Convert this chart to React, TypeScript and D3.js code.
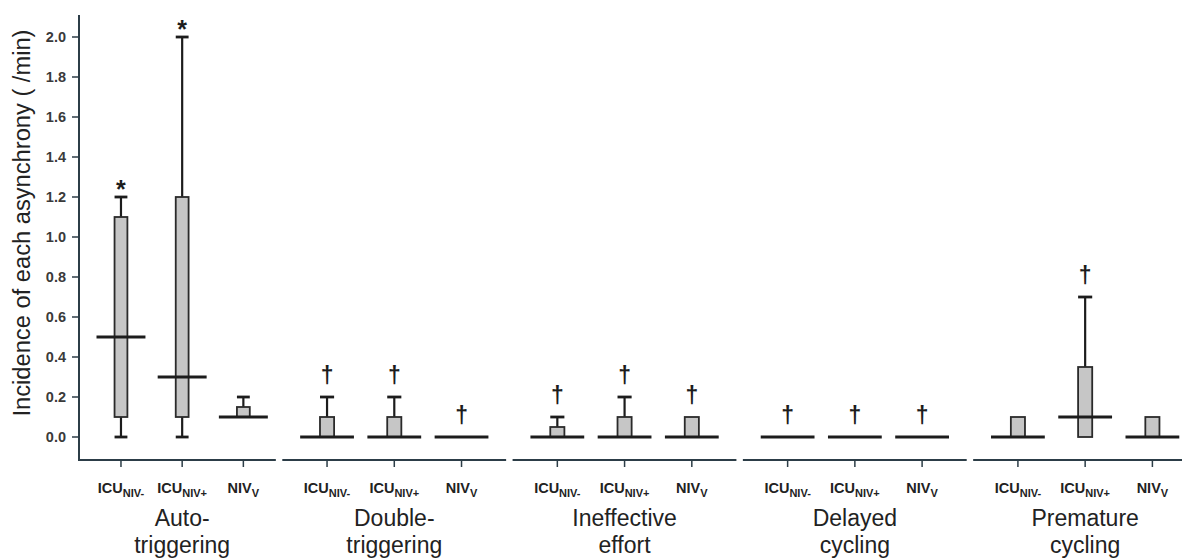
import React from "react";
import * as d3 from "d3";

// ---------- data ----------
const groupLine1 = ["Auto-", "Double-", "Ineffective", "Delayed", "Premature"];
const groupLine2 = ["triggering", "triggering", "effort", "cycling", "cycling"];
const catMain = ["ICU", "ICU", "NIV"];
const catSub = ["NIV-", "NIV+", "V"];

// per group, per category (ICU NIV-, ICU NIV+, NIV V)
const whiskerLow = [
  [0, 0, 0.1],
  [0, 0, 0],
  [0, 0, 0],
  [0, 0, 0],
  [0, 0, 0],
];
const q1 = [
  [0.1, 0.1, 0.1],
  [0, 0, 0],
  [0, 0, 0],
  [0, 0, 0],
  [0, 0, 0],
];
const median = [
  [0.5, 0.3, 0.1],
  [0, 0, 0],
  [0, 0, 0],
  [0, 0, 0],
  [0, 0.1, 0],
];
const q3 = [
  [1.1, 1.2, 0.15],
  [0.1, 0.1, 0],
  [0.05, 0.1, 0.1],
  [0, 0, 0],
  [0.1, 0.35, 0.1],
];
const whiskerHigh = [
  [1.2, 2.0, 0.2],
  [0.2, 0.2, 0],
  [0.1, 0.2, 0.1],
  [0, 0, 0],
  [0.1, 0.7, 0.1],
];
const markers = [
  ["*", "*", ""],
  ["†", "†", "†"],
  ["†", "†", "†"],
  ["†", "†", "†"],
  ["", "†", ""],
];
const yTicks = [0, 0.2, 0.4, 0.6, 0.8, 1.0, 1.2, 1.4, 1.6, 1.8, 2.0];
const yLabel = "Incidence of each asynchrony ( /min)";

// ---------- layout ----------
const W = 1182;
const H = 558;
const AXIS_X = 79;
const AXIS_Y = 460;
const AXIS_TOP = 15;
const FONT = "'Liberation Sans', Arial, Helvetica, sans-serif";
const AXIS_COLOR = "#2c3d47";
const INK = "#1c1c1c";

export default function App() {
  const y = d3.scaleLinear().domain([0, 2]).range([437, 37]);
  const groupIdx = groupLine1.map((_, i) => i);
  const gx = d3
    .scaleBand<number>()
    .domain(groupIdx)
    .range([52, 1197])
    .paddingInner(0.028);

  const groups = groupIdx.map((gi) => {
    const bandStart = gx(gi)!;
    const bandEnd = bandStart + gx.bandwidth();
    const segStart = Math.max(bandStart, AXIS_X);
    const w = bandEnd - segStart;
    const offset = 0.103 * w + 21.7;
    const step = 0.224 * w + 17.1;
    const inner = d3
      .scalePoint<number>()
      .domain([0, 1, 2])
      .range([segStart + offset, segStart + offset + 2 * step]);
    return { gi, segStart, segEnd: Math.min(bandEnd, W), inner, step };
  });

  return (
    <svg
      width={W}
      height={H}
      style={{ position: "absolute", left: 0, top: 0, background: "#fff" }}
      fontFamily={FONT}
    >
      {/* Y axis */}
      <line x1={AXIS_X} x2={AXIS_X} y1={AXIS_TOP} y2={AXIS_Y + 1} stroke={AXIS_COLOR} strokeWidth={2} />
      {yTicks.map((t) => (
        <g key={t}>
          <line x1={AXIS_X - 7} x2={AXIS_X} y1={y(t)} y2={y(t)} stroke={AXIS_COLOR} strokeWidth={1.5} />
          <text
            x={AXIS_X - 13}
            y={y(t)}
            dy="0.35em"
            textAnchor="end"
            fontSize={14.5}
            fontWeight="bold"
            fill="#3a3a3a"
          >
            {t.toFixed(1)}
          </text>
        </g>
      ))}
      <text
        transform={`translate(30, 223) rotate(-90)`}
        textAnchor="middle"
        fontSize={23}
        fill="#222"
        textLength={387}
        lengthAdjust="spacingAndGlyphs"
      >
        {yLabel}
      </text>

      {groups.map(({ gi, segStart, segEnd, inner, step }) => {
        const boxW = 0.21 * step;
        const medW = 0.8 * step;
        const capW = boxW;
        return (
          <g key={gi}>
            {/* x axis segment */}
            <line x1={segStart} x2={segEnd} y1={AXIS_Y} y2={AXIS_Y} stroke={AXIS_COLOR} strokeWidth={2} />
            {catMain.map((m, ci) => {
              const cx = inner(ci)!;
              const lo = whiskerLow[gi][ci];
              const b1 = q1[gi][ci];
              const md = median[gi][ci];
              const b3 = q3[gi][ci];
              const hi = whiskerHigh[gi][ci];
              const mk = markers[gi][ci];
              const topVal = Math.max(hi, b3, md);
              return (
                <g key={ci}>
                  {/* tick + label */}
                  <line x1={cx} x2={cx} y1={AXIS_Y} y2={AXIS_Y + 7} stroke={AXIS_COLOR} strokeWidth={1.5} />
                  <text x={cx} y={493} textAnchor="middle" fontWeight="bold" fontSize={14.5} fill="#222">
                    {m}
                    <tspan fontSize={11} dy={4}>
                      {catSub[ci]}
                    </tspan>
                  </text>
                  {/* upper whisker */}
                  {hi > b3 && (
                    <g stroke={INK}>
                      <line x1={cx} x2={cx} y1={y(b3)} y2={y(hi)} strokeWidth={2.2} />
                      <line x1={cx - capW / 2} x2={cx + capW / 2} y1={y(hi)} y2={y(hi)} strokeWidth={2.8} />
                    </g>
                  )}
                  {/* lower whisker */}
                  {lo < b1 && (
                    <g stroke={INK}>
                      <line x1={cx} x2={cx} y1={y(b1)} y2={y(lo)} strokeWidth={2.2} />
                      <line x1={cx - capW / 2} x2={cx + capW / 2} y1={y(lo)} y2={y(lo)} strokeWidth={2.8} />
                    </g>
                  )}
                  {/* box */}
                  {b3 > b1 && (
                    <rect
                      x={cx - boxW / 2}
                      y={y(b3)}
                      width={boxW}
                      height={y(b1) - y(b3)}
                      fill="#c6c6c6"
                      stroke="#2a2a2a"
                      strokeWidth={1.8}
                    />
                  )}
                  {/* median */}
                  <line
                    x1={cx - medW / 2}
                    x2={cx + medW / 2}
                    y1={y(md)}
                    y2={y(md)}
                    stroke={INK}
                    strokeWidth={3.2}
                  />
                  {/* significance marker */}
                  {mk === "*" && (
                    <text x={cx} y={y(topVal) + 1} textAnchor="middle" fontSize={25} fontWeight="bold" fill={INK}>
                      {mk}
                    </text>
                  )}
                  {mk === "†" && (
                    <text x={cx} y={y(topVal) - 14} textAnchor="middle" fontSize={23} fontWeight="bold" fill={INK}>
                      {mk}
                    </text>
                  )}
                </g>
              );
            })}
            {/* group title */}
            <text x={inner(1)!} y={526} textAnchor="middle" fontSize={23} fill="#222">
              {groupLine1[gi]}
            </text>
            <text x={inner(1)!} y={553} textAnchor="middle" fontSize={23} fill="#222">
              {groupLine2[gi]}
            </text>
          </g>
        );
      })}
    </svg>
  );
}
